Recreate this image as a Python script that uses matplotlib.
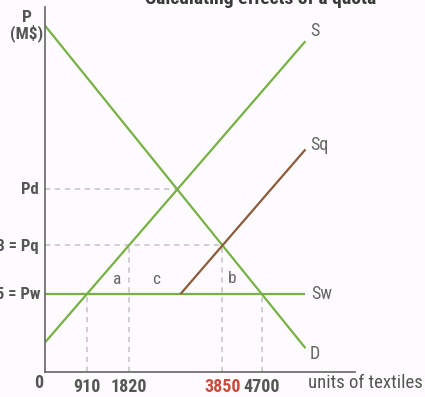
import matplotlib
matplotlib.use("Agg")
import matplotlib.pyplot as plt
from matplotlib import font_manager as fm
import numpy as np

# --- data -------------------------------------------------------------
tick_quantities = [910, 1820, 3850, 4700]
tick_labels = ["910", "1820", "3850", "4700"]
tick_colors = ["#555555", "#555555", "#cc4a3c", "#555555"]

price_world = 1.85      # Pw
price_quota = 3.0       # Pq
q_supply_world, q_supply_quota = 910, 1820    # domestic supply at Pw, Pq
q_demand_quota, q_demand_world = 3850, 4700   # demand at Pq, Pw
q_end = 5650            # right end of the drawn curves

# --- fonts: prefer a condensed face -----------------------------------
names = {f.name for f in fm.fontManager.ttflist}
condensed = [n for n in ("Liberation Sans Narrow", "Roboto Condensed",
                         "Open Sans Condensed", "Noto Sans Condensed",
                         "DejaVu Sans Condensed") if n in names]
if condensed:
    family = condensed[0]
    scale = 1.0
else:
    family = "Liberation Sans"
    scale = 0.86
plt.rcParams["font.family"] = [family, "DejaVu Sans"]

def fs(size):
    return size * scale

green = "#77b145"
brown = "#8b5b3c"
grey_txt = "#555555"
dash_col = "#c4c4c4"
bg = "#fdfbfd"

fig = plt.figure(figsize=(4.25, 3.97), dpi=100, facecolor=bg)
W, H = 425, 397
ax = fig.add_axes([45 / W, (H - 372) / H, 310 / W, 365 / H], facecolor=bg)
ax.set_xlim(0, 310 / 0.0461)
ax.set_ylim(0, 365 / 42.2)

# linear supply and demand curves through their two labelled points
s_slope = (price_quota - price_world) / (q_supply_quota - q_supply_world)
d_slope = (price_quota - price_world) / (q_demand_quota - q_demand_world)

def supply(q):
    return price_world + (q - q_supply_world) * s_slope

def demand(q):
    return price_world + (q - q_demand_world) * d_slope

quota = q_demand_quota - q_supply_quota
q_start_sq = q_supply_world + quota

# domestic price without trade (S and D crossing)
q_d = (q_supply_world * s_slope - q_demand_world * d_slope) / (s_slope - d_slope)
price_domestic = supply(q_d)

q = np.array([0, q_end])
lw = 1.6
ax.plot(q, demand(q), color=green, lw=lw, solid_capstyle="butt")
ax.plot(q, supply(q), color=green, lw=lw, solid_capstyle="butt")
ax.plot(q, [price_world, price_world], color=green, lw=lw, solid_capstyle="butt")
q_sq = np.array([q_start_sq, q_end])
ax.plot(q_sq, supply(q_sq - quota), color=brown, lw=lw, solid_capstyle="butt")

# dashed guides
dash = dict(color=dash_col, lw=1.1, ls=(0, (3.5, 3)), zorder=0)
ax.plot([0, q_d], [price_domestic] * 2, **dash)
ax.plot([0, q_demand_quota], [price_quota] * 2, **dash)
for qq, pp in zip(tick_quantities,
                  [price_world, price_quota, price_quota, price_world]):
    ax.plot([qq, qq], [0, pp], **dash)

# axes styling
for side in ("top", "right"):
    ax.spines[side].set_visible(False)
for side in ("left", "bottom"):
    ax.spines[side].set_color("#666666")
    ax.spines[side].set_linewidth(1.2)
ax.set_yticks([])
ax.set_xticks(tick_quantities)
ax.set_xticklabels(tick_labels, fontsize=fs(13), fontweight="bold")
for lab, c in zip(ax.get_xticklabels(), tick_colors):
    lab.set_color(c)
ax.tick_params(axis="x", length=0, pad=4)

off = dict(textcoords="offset pixels", annotation_clip=False)
ax.annotate("0", xy=(0, 0), xytext=(-6, -11), ha="center", va="center",
            fontsize=fs(13), fontweight="bold", color=grey_txt, **off)
ax.annotate("units of textiles", xy=(1, 0), xycoords="axes fraction",
            xytext=(-47, -11), ha="left", va="center", fontsize=fs(13.5),
            color=grey_txt, **off)

# price labels on the left
ylab = dict(xycoords=("axes fraction", "data"), ha="right", va="center",
            fontsize=fs(12), fontweight="bold", color=grey_txt, **off)
ax.annotate("Pd", xy=(0, price_domestic), xytext=(-6, 0), **ylab)
ax.annotate(r"\$3 = Pq", xy=(0, price_quota), xytext=(-6, 0), **ylab)
ax.annotate(r"\$1.85 = Pw", xy=(0, price_world), xytext=(-5, 0), **ylab)
ax.annotate("P\n(M\\$)", xy=(0, 1), xycoords="axes fraction", xytext=(-18, -19),
            ha="center", va="center", fontsize=fs(12.5), fontweight="bold",
            color=grey_txt, linespacing=1.0, **off)

# curve labels
clab = dict(fontsize=fs(13), color="#666666", ha="left", va="center", **off)
ax.annotate("S", xy=(q_end, supply(q_end)), xytext=(5, 10), **clab)
ax.annotate("Sq", xy=(q_end, supply(q_end - quota)), xytext=(5, 4), **clab)
ax.annotate("Sw", xy=(q_end, price_world), xytext=(6, 0), **clab)
ax.annotate("D", xy=(q_end, demand(q_end)), xytext=(4, -6), **clab)

# area labels
alab = dict(fontsize=fs(12.5), color="#666666", ha="center", va="center", **off)
ax.annotate("a", xy=(q_supply_quota, price_world), xytext=(-12, 14), **alab)
ax.annotate("c", xy=(q_start_sq, price_world), xytext=(-24, 14), **alab)
ax.annotate("b", xy=(q_demand_quota, price_world), xytext=(10, 15), **alab)

fig.text(261 / W, 1 - 3.5 / H, "Calculating effects of a quota", ha="center",
         va="baseline", fontsize=fs(14), fontweight="bold", color="#3a3a3a")

fig.savefig("out.png", dpi=100, facecolor=bg)
